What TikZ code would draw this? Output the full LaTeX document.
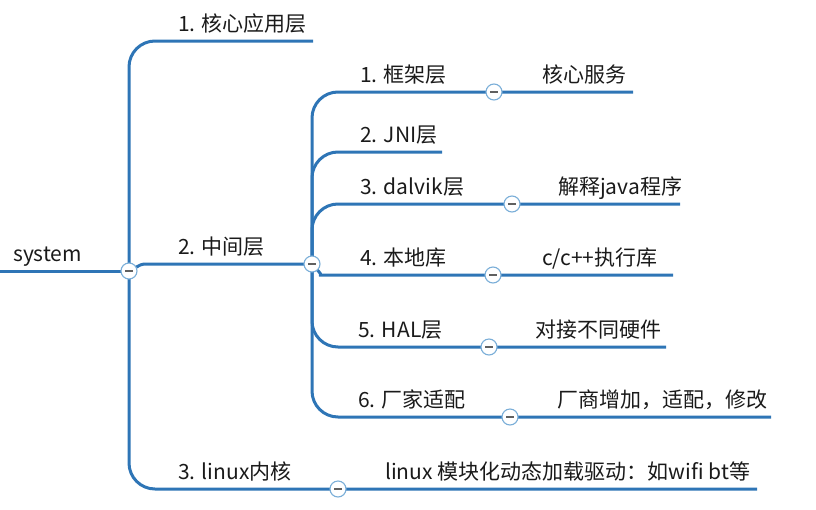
\documentclass[tikz,border=0pt]{standalone}
\usepackage{fontspec}
\setmainfont{Noto Sans CJK SC}
\definecolor{azulrama}{HTML}{2E75B6}
\definecolor{azulboton}{HTML}{7AAED8}
\definecolor{grissigno}{HTML}{606060}
\definecolor{texto}{HTML}{1A1A1A}
\newcommand{\signo}{\textcolor{grissigno}{\rule[-0.6pt]{8pt}{1.2pt}}}
\tikzset{
  rama/.style={draw=azulrama, line width=3pt, rounded corners=26pt},
  boton/.style={circle, draw=azulboton, fill=white, line width=1.1pt, minimum size=16pt, inner sep=0pt},
  tema/.style={anchor=base west, inner sep=0pt, text=texto, font=\fontsize{21}{25}\selectfont},
}
\begin{document}
\begin{tikzpicture}[x=1pt, y=-1pt]
    \useasboundingbox (0,0) rectangle (816,509);

    % Puntos de las ramas
    \coordinate (r0) at (0,271);
    \coordinate (k0) at (129,271);
    \coordinate (k2) at (312,264);
    \coordinate (k3) at (338,489);
    \coordinate (e1) at (313,41);
    \coordinate (e3) at (757,489);
    \coordinate (m1) at (494,92);
    \coordinate (m3) at (512,204);
    \coordinate (m4) at (493,275);
    \coordinate (m5) at (489,347);
    \coordinate (m6) at (510,417);
    \coordinate (e21) at (633,92);
    \coordinate (e22) at (442,152);
    \coordinate (e23) at (680,204);
    \coordinate (e24) at (673,275);
    \coordinate (e25) at (666,347);
    \coordinate (e26) at (771,417);

    % Ramas del primer nivel
    \draw[rama] (r0) -- (k0);
    \draw[rama] (k0) |- (e1);
    \draw[rama] (k0) .. controls (142,264) and (142,264) .. (170,264) -- (k2);
    \draw[rama] (k0) |- (k3) -- (e3);

    % Ramas del segundo nivel
    \draw[rama] (k2) |- (m1) -- (e21);
    \draw[rama] (k2) |- (e22);
    \draw[rama] (k2) |- (m3) -- (e23);
    \draw[rama] (k2) .. controls (322,275) and (322,275) .. (345,275) -- (m4) -- (e24);
    \draw[rama] (k2) |- (m5) -- (e25);
    \draw[rama] (k2) |- (m6) -- (e26);

    % Botones para plegar
    \foreach \k in {k0,k2,k3,m1,m3,m4,m5,m6}
        \node[boton] (b-\k) at (\k) {\signo};

    % Textos
    \node[tema] (raiz) at (13,261) {system};
    \node[tema] (t1) at (178,31) {1. 核心应用层};
    \node[tema] (t2) at (178,254) {2. 中间层};
    \node[tema] (t3) at (178,479) {3. linux内核};
    \node[tema] (s1) at (360,82) {1. 框架层};
    \node[tema] (s2) at (360,142) {2. JNI层};
    \node[tema] (s3) at (360,194) {3. dalvik层};
    \node[tema] (s4) at (360,265) {4. 本地库};
    \node[tema] (s5) at (358,337) {5. HAL层};
    \node[tema] (s6) at (358,407) {6. 厂家适配};
    \node[tema] (h1) at (542,82) {核心服务};
    \node[tema] (h3) at (558,194) {解释java程序};
    \node[tema] (h4) at (542,265) {c/c++执行库};
    \node[tema] (h5) at (535,337) {对接不同硬件};
    \node[tema] (h6) at (557,407) {厂商增加，适配，修改};
    \node[tema] (h7) at (385,479) {linux 模块化动态加载驱动：如wifi bt等};
\end{tikzpicture}
\end{document}
